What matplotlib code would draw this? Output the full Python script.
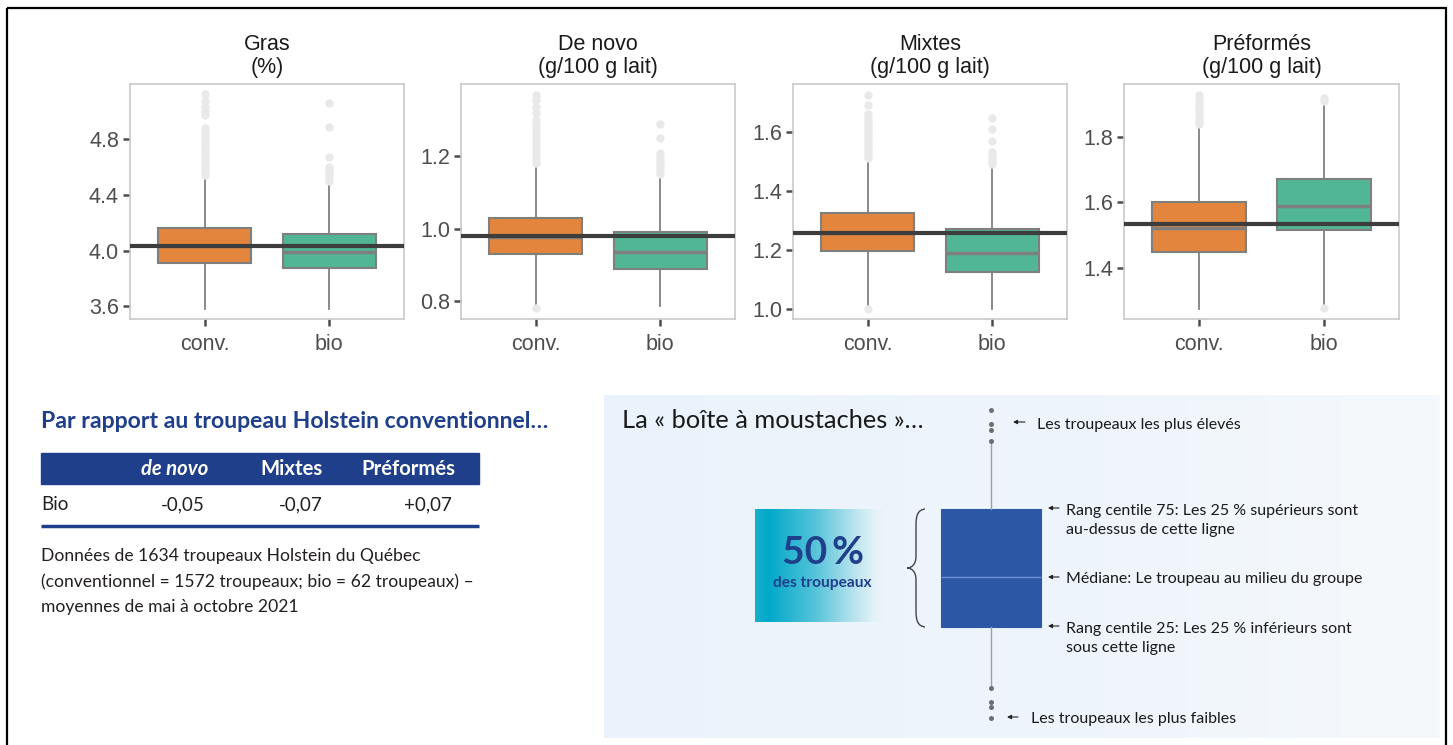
import numpy as np
import matplotlib.pyplot as plt
from matplotlib.patches import Rectangle, PathPatch
from matplotlib.path import Path
from matplotlib.colors import LinearSegmentedColormap

# ---------------------------------------------------------------- data
panel_titles = ["Gras\n(%)", "De novo\n(g/100 g lait)",
                "Mixtes\n(g/100 g lait)", "Préformés\n(g/100 g lait)"]
group_labels = ["conv.", "bio"]

# one [conv, bio] pair per panel
q1_vals = [[3.91, 3.878], [0.931, 0.889], [1.197, 1.125], [1.448, 1.517]]
median_vals = [[4.03, 3.99], [0.978, 0.935], [1.256, 1.19], [1.5215, 1.589]]
q3_vals = [[4.163, 4.12], [1.029, 0.990], [1.323, 1.269], [1.601, 1.671]]
whisker_low = [[3.584, 3.584], [0.786, 0.786], [1.007, 1.0], [1.273, 1.286]]
whisker_high = [[4.53, 4.478], [1.173, 1.142], [1.504, 1.479], [1.83, 1.905]]
herd_mean = [4.036, 0.979, 1.258, 1.534]

outliers_conv = [
    [4.54, 4.56, 4.58, 4.60, 4.62, 4.64, 4.66, 4.68, 4.70, 4.72, 4.74,
     4.76, 4.78, 4.80, 4.82, 4.84, 4.86, 4.88, 4.97, 5.00, 5.03, 5.075, 5.12],
    [0.78, 1.18, 1.19, 1.20, 1.21, 1.22, 1.23, 1.24, 1.25, 1.26, 1.27,
     1.28, 1.29, 1.30, 1.32, 1.335, 1.355, 1.37],
    [1.0, 1.51, 1.52, 1.53, 1.54, 1.55, 1.56, 1.57, 1.58, 1.59, 1.60,
     1.61, 1.62, 1.63, 1.64, 1.65, 1.66, 1.69, 1.725],
    [1.84, 1.85, 1.86, 1.87, 1.88, 1.89, 1.90, 1.91, 1.92, 1.93],
]
outliers_bio = [
    [4.50, 4.52, 4.54, 4.56, 4.58, 4.60, 4.67, 4.89, 5.06],
    [1.15, 1.16, 1.17, 1.18, 1.19, 1.20, 1.21, 1.25, 1.29],
    [1.49, 1.50, 1.51, 1.52, 1.53, 1.57, 1.61, 1.645],
    [1.275, 1.91, 1.92],
]
y_ticks = [[3.6, 4.0, 4.4, 4.8], [0.8, 1.0, 1.2], [1.0, 1.2, 1.4, 1.6],
           [1.4, 1.6, 1.8]]
y_limits = [(3.51, 5.195), (0.751, 1.399), (0.965, 1.762), (1.2426, 1.9635)]

table_title = "Par rapport au troupeau Holstein conventionnel…"
table_columns = ["de novo", "Mixtes", "Préformés"]
table_row_label = "Bio"
table_diffs = ["-0,05", "-0,07", "+0,07"]
table_note = ["Données de 1634 troupeaux Holstein du Québec",
              "(conventionnel = 1572 troupeaux; bio = 62 troupeaux) –",
              "moyennes de mai à octobre 2021"]

# schematic box (illustrative scale 0-100)
demo_stats = dict(whislo=11.7, q1=30.2, med=45.5, q3=66.5, whishi=87.1,
                  fliers=[2.2, 5.5, 7.1, 11.5, 87.3, 90.8, 92.6, 96.9])

# ---------------------------------------------------------------- style
W, H = 1453, 745
ORANGE = "#E3853C"
GREEN = "#50B696"
BLUE = "#1f3f8a"
CHART_FONT = "Liberation Sans"
INFO_FONT = "Lato"

fig = plt.figure(figsize=(W / 100, H / 100), dpi=100)
fig.patch.set_facecolor("white")


def rect(x0, y0, x1, y1):
    return [x0 / W, 1 - y1 / H, (x1 - x0) / W, (y1 - y0) / H]


# background layer in pixel coordinates
bg = fig.add_axes([0, 0, 1, 1], zorder=0)
bg.axis("off")

# light blue explanatory panel
panel_cmap = LinearSegmentedColormap.from_list(
    "panel", [(0.0, "#eaf3fb"), (0.6, "#eff5fb"), (1.0, "#f6f9fc")])
bg.imshow(np.linspace(0, 1, 256)[None, :], extent=(604, 1440, 738, 395),
          aspect="auto", cmap=panel_cmap, interpolation="bilinear", zorder=0)

# teal fading label box
fade_cmap = LinearSegmentedColormap.from_list(
    "fade", [(0.0, "#1aafcb"), (0.1, "#00a9c9"), (0.45, "#55c3da"),
             (0.75, "#b9e4ee"), (0.9, "#e4f2f8"), (1.0, "#eef5fb")])
bg.imshow(np.linspace(0, 1, 256)[None, :], extent=(755, 888, 622, 509),
          aspect="auto", cmap=fade_cmap, interpolation="bilinear", zorder=1)

# outer frame
bg.add_patch(Rectangle((7, 8), 1439, 800, fill=False, ec="black", lw=1.6,
                       zorder=5))

# ---------------------------------------------------------------- box plots
panel_px = [(130, 404), (461, 735), (793, 1067), (1124, 1399)]
for i, (x0, x1) in enumerate(panel_px):
    ax = fig.add_axes(rect(x0, 84, x1, 319), zorder=2)
    stats = []
    for g, fl in enumerate([outliers_conv[i], outliers_bio[i]]):
        stats.append(dict(med=median_vals[i][g], q1=q1_vals[i][g],
                          q3=q3_vals[i][g], whislo=whisker_low[i][g],
                          whishi=whisker_high[i][g], fliers=np.array(fl)))
    bp = ax.bxp(stats, positions=[1, 2], widths=0.75, patch_artist=True,
                showcaps=False,
                boxprops=dict(edgecolor="#7f7f7f", linewidth=1.5),
                medianprops=dict(color="#7f7f7f", linewidth=2.5),
                whiskerprops=dict(color="#808080", linewidth=1.3),
                flierprops=dict(marker="o", markersize=6,
                                markerfacecolor="#e9e9e9",
                                markeredgecolor="none"))
    for patch, col in zip(bp["boxes"], [ORANGE, GREEN]):
        patch.set_facecolor(col)
    ax.axhline(herd_mean[i], color="#3d3d3d", lw=3, zorder=6)
    ax.set_xlim(0.4, 2.6)
    ax.set_ylim(*y_limits[i])
    ax.set_yticks(y_ticks[i])
    ax.set_yticklabels([f"{t:.1f}" for t in y_ticks[i]])
    ax.set_xticks([1, 2])
    ax.set_xticklabels(group_labels)
    ax.tick_params(axis="both", colors="#4d4d4d", length=5, width=1.8,
                   labelsize=15.5, labelcolor="#4d4d4d")
    ax.tick_params(axis="y", pad=3)
    ax.tick_params(axis="x", pad=6)
    for lab in ax.get_xticklabels() + ax.get_yticklabels():
        lab.set_family(CHART_FONT)
    for sp in ax.spines.values():
        sp.set_color("#c9c9c9")
        sp.set_linewidth(1.2)
    ax.set_title(panel_titles[i], fontsize=15.5, family=CHART_FONT,
                 color="#1a1a1a", pad=8, linespacing=1.1)

# ---------------------------------------------------------------- table
bg.text(41, 421, table_title, family=INFO_FONT, fontweight="bold",
        fontsize=16.6, color=BLUE, va="center", ha="left")
bg.add_patch(Rectangle((41, 453), 438, 31, color=BLUE, zorder=2))
col_right = [208, 323, 455]
bg.text(col_right[0], 469, table_columns[0], family=INFO_FONT,
        fontweight="bold", fontstyle="italic", fontsize=14.6, color="white",
        ha="right", va="center", zorder=3)
for c in (1, 2):
    bg.text(col_right[c], 469, table_columns[c], family=INFO_FONT,
            fontweight="bold", fontsize=14.6, color="white", ha="right",
            va="center", zorder=3)
bg.text(41, 505, table_row_label, family=INFO_FONT, fontsize=13.5,
        color="#231f20", ha="left", va="center")
for x, val in zip([205, 323, 452], table_diffs):
    bg.text(x, 505, val, family=INFO_FONT, fontsize=13.5, color="#231f20",
            ha="right", va="center")
bg.plot([41, 479], [526, 526], color=BLUE, lw=2.5, solid_capstyle="butt")
for k, line in enumerate(table_note):
    bg.text(41, 556 + 25.5 * k, line, family=INFO_FONT, fontsize=12.6,
            color="#231f20", ha="left", va="center")

# ---------------------------------------------------------------- schematic
bg.text(622, 421, "La « boîte à moustaches »…", family=INFO_FONT,
        fontsize=18.3, color="#1a1a1a", ha="left", va="center", zorder=3)

demo = fig.add_axes(rect(891, 400, 1091, 725), zorder=3)
demo.patch.set_alpha(0)
demo.axis("off")
dbp = demo.bxp([demo_stats], positions=[1], widths=1.0, patch_artist=True,
               showcaps=False,
               boxprops=dict(facecolor="#2b57a5", edgecolor="#2b57a5",
                             linewidth=0.8),
               medianprops=dict(color="#6d8fcb", linewidth=1.0),
               whiskerprops=dict(color="#a0a0a0", linewidth=1.0),
               flierprops=dict(marker="o", markersize=3.6,
                               markerfacecolor="#6e6e6e",
                               markeredgecolor="none"))
demo.set_xlim(0, 2)
demo.set_ylim(0, 100)

bg.text(823, 552, "50\u2009%", family=INFO_FONT, fontweight="bold",
        fontstyle="normal", fontsize=28, color=BLUE, ha="center",
        va="center", zorder=3)
bg.text(822, 583, "des troupeaux", family=INFO_FONT, fontweight="bold",
        fontsize=11.2, color=BLUE, ha="center", va="center", zorder=3)

brace = Path([(925, 509), (918, 510), (916, 515), (916, 525),
              (916, 556),
              (916, 564), (912, 568), (907, 568),
              (912, 568), (916, 572), (916, 580),
              (916, 611),
              (916, 621), (918, 626), (925, 627)],
             [Path.MOVETO, Path.CURVE4, Path.CURVE4, Path.CURVE4,
              Path.LINETO,
              Path.CURVE4, Path.CURVE4, Path.CURVE4,
              Path.CURVE4, Path.CURVE4, Path.CURVE4,
              Path.LINETO,
              Path.CURVE4, Path.CURVE4, Path.CURVE4])
bg.add_patch(PathPatch(brace, fill=False, ec="#444444", lw=1.0, zorder=3))

notes = [
    ((1013, 1025), 422, 1037, ["Les troupeaux les plus élevés"]),
    ((1048, 1059), 508, 1066, ["Rang centile 75: Les 25 % supérieurs sont",
                               "au-dessus de cette ligne"]),
    ((1048, 1059), 577, 1066, ["Médiane: Le troupeau au milieu du groupe"]),
    ((1048, 1059), 626, 1066, ["Rang centile 25: Les 25 % inférieurs sont",
                               "sous cette ligne"]),
    ((1007, 1018), 717, 1031, ["Les troupeaux les plus faibles"]),
]
for (ax0, ax1), ay, tx, lines in notes:
    bg.annotate("", xy=(ax0, ay), xytext=(ax1, ay), zorder=3,
                arrowprops=dict(arrowstyle="-|>", color="#222222", lw=0.8,
                                mutation_scale=6, shrinkA=0, shrinkB=0))
    for k, line in enumerate(lines):
        bg.text(tx, ay + 2.5 + 19.5 * k, line, family=INFO_FONT,
                fontsize=11.5, color="#1a1a1a", ha="left", va="center",
                zorder=3)

bg.set_xlim(0, W)
bg.set_ylim(H, 0)

fig.savefig("out.png", dpi=100)
